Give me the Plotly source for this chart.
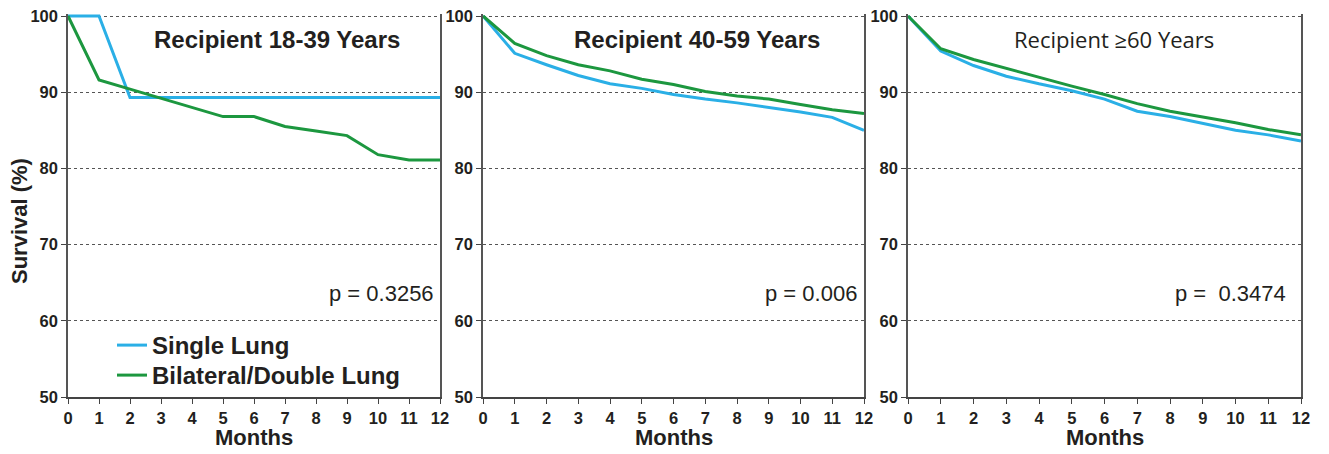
import plotly.graph_objects as go

months = list(range(0, 13))

titles = ["Recipient 18-39 Years", "Recipient 40-59 Years", "Recipient \u226560 Years"]
p_values = ["p = 0.3256", "p = 0.006", "p =  0.3474"]
series_names = ["Single Lung", "Bilateral/Double Lung"]

single_18_39 = [100, 100, 89.3, 89.3, 89.3, 89.3, 89.3, 89.3, 89.3, 89.3, 89.3, 89.3, 89.3]
double_18_39 = [100, 91.6, 90.4, 89.2, 88.0, 86.8, 86.8, 85.5, 84.9, 84.3, 81.8, 81.1, 81.1]

single_40_59 = [100, 95.1, 93.6, 92.2, 91.1, 90.5, 89.7, 89.1, 88.6, 88.0, 87.4, 86.7, 85.0]
double_40_59 = [100, 96.4, 94.8, 93.6, 92.8, 91.7, 91.0, 90.1, 89.5, 89.1, 88.4, 87.7, 87.2]

single_60 = [100, 95.4, 93.5, 92.1, 91.1, 90.2, 89.1, 87.5, 86.8, 85.9, 85.0, 84.4, 83.6]
double_60 = [100, 95.7, 94.3, 93.1, 91.9, 90.8, 89.7, 88.5, 87.5, 86.8, 86.0, 85.1, 84.4]

y_ticks = [50, 60, 70, 80, 90, 100]
x_ticks = months

BLUE = "#2AAFE6"
GREEN = "#1C973F"
W, H = 1329, 454

panels = [
    (single_18_39, double_18_39),
    (single_40_59, double_40_59),
    (single_60, double_60),
]

# pixel extents of each plot area (left, right)
px_x = [(68, 440), (483, 864), (908, 1301)]
y_top_px, y_bot_px = 14.1, 397
y_range = [50, 100.25]

fig = go.Figure()
for i, (s, d) in enumerate(panels):
    ax = "" if i == 0 else str(i + 1)
    fig.add_trace(go.Scatter(x=months, y=s, mode="lines", name=series_names[0],
                             line=dict(color=BLUE, width=3), showlegend=(i == 0),
                             legend="legend", xaxis="x" + ax, yaxis="y" + ax))
    fig.add_trace(go.Scatter(x=months, y=d, mode="lines", name=series_names[1],
                             line=dict(color=GREEN, width=3), showlegend=(i == 0),
                             legend="legend2", xaxis="x" + ax, yaxis="y" + ax))

FAM = "Liberation Sans, Arial"
axis_font = dict(family=FAM, size=16.5, color="#231F20", weight="bold")
label_font = dict(family=FAM, size=22, color="#231F20", weight="bold")
legend_font = dict(family=FAM, size=24, color="#231F20", weight="bold")

layout = dict(
    width=W, height=H,
    margin=dict(l=0, r=0, t=0, b=0, autoexpand=False),
    paper_bgcolor="white", plot_bgcolor="white",
    showlegend=True,
    legend=dict(x=112 / W, y=1 - 323 / H, xanchor="left", yanchor="top",
                font=legend_font, bgcolor="rgba(0,0,0,0)", itemwidth=30),
    legend2=dict(x=112 / W, y=1 - 353 / H, xanchor="left", yanchor="top",
                 font=legend_font, bgcolor="rgba(0,0,0,0)", itemwidth=30),
)

annotations = []
for i in range(3):
    ax = "" if i == 0 else str(i + 1)
    l, r = px_x[i]
    layout["xaxis" + ax] = dict(
        domain=[l / W, r / W], range=[0, 12], anchor="y" + ax,
        tickmode="array", tickvals=x_ticks, ticktext=[str(v) for v in x_ticks],
        ticks="outside", ticklen=5, tickwidth=1.2, tickcolor="#444",
        showline=True, linecolor="#444", linewidth=1.5,
        showgrid=False, zeroline=False, tickfont=axis_font, automargin=False,
        fixedrange=True,
    )
    layout["yaxis" + ax] = dict(
        domain=[1 - y_bot_px / H, 1 - y_top_px / H], range=y_range, anchor="x" + ax,
        tickmode="array", tickvals=y_ticks, ticktext=[str(v) for v in y_ticks],
        ticks="outside", ticklen=5, tickwidth=1.2, tickcolor="#444",
        showline=True, linecolor="#555", linewidth=1.5, mirror=True,
        showgrid=True, gridcolor="#555", gridwidth=1, griddash="dot",
        zeroline=False, tickfont=axis_font, automargin=False, fixedrange=True,
    )
    # panel title
    if i < 2:
        tfont = dict(family=FAM, size=24, color="#231F20", weight="bold")
    else:
        tfont = dict(family="Open Sans, Noto Sans", size=22, color="#231F20")
    annotations.append(dict(text=titles[i], xref="paper", yref="paper",
                            x=[277, 697, 1114][i] / W, y=1 - 39 / H, showarrow=False,
                            xanchor="center", yanchor="middle", font=tfont))
    annotations.append(dict(text=p_values[i], xref="paper", yref="paper",
                            x=[436, 859, 1288][i] / W, y=1 - 293 / H, showarrow=False,
                            xanchor="right", yanchor="middle",
                            font=dict(family=FAM, size=22, color="#231F20")))
    # x-axis title
    annotations.append(dict(text="Months", xref="paper", yref="paper",
                            x=((l + r) / 2) / W, y=1 - 437 / H, showarrow=False,
                            xanchor="center", yanchor="middle", font=label_font))

annotations.append(dict(text="Survival (%)", xref="paper", yref="paper", x=19 / W, y=1 - 221 / H,
                        textangle=-90, showarrow=False, xanchor="center", yanchor="middle",
                        font=label_font))
layout["annotations"] = annotations

fig.update_layout(**layout)
fig.write_html("out.html")
